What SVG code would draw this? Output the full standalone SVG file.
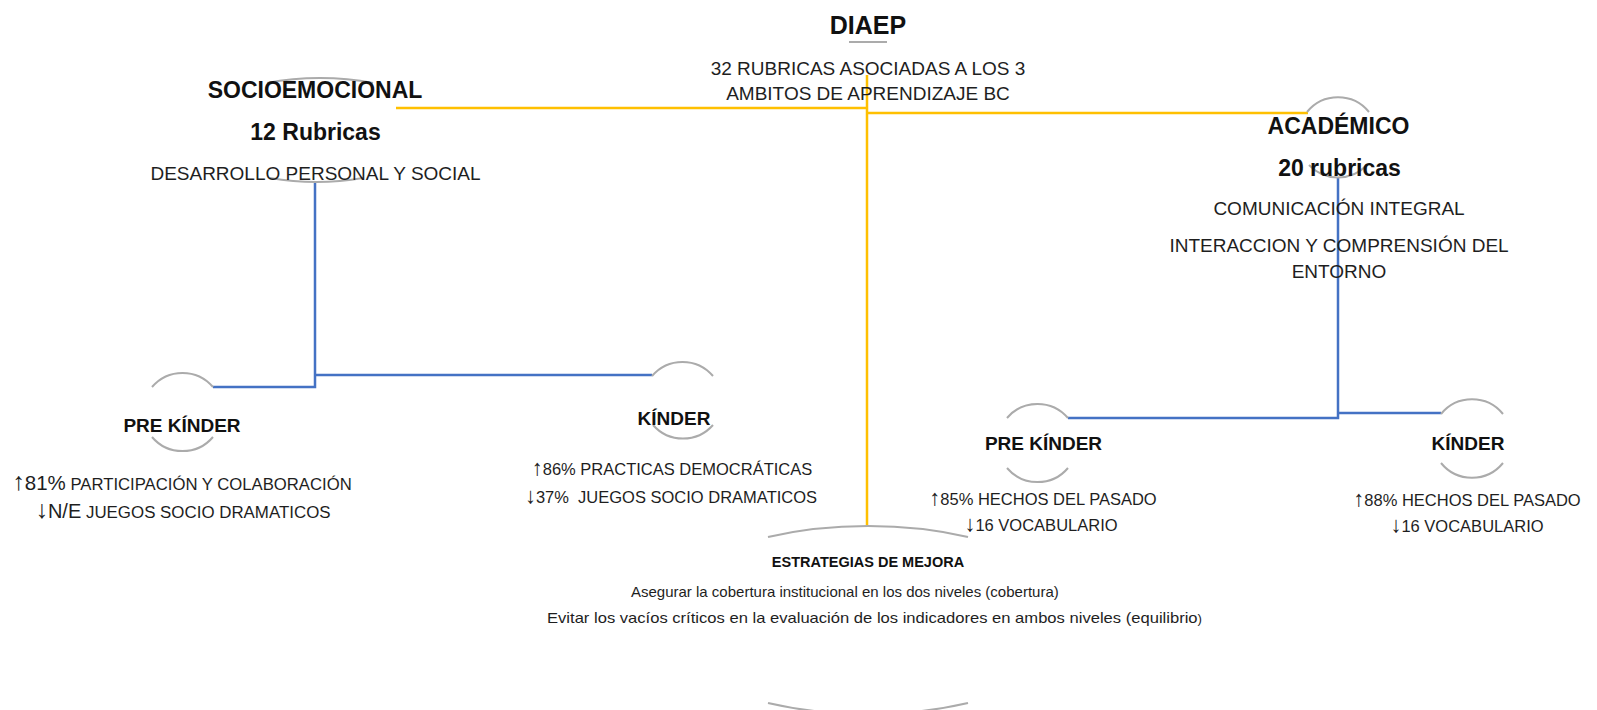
<svg xmlns="http://www.w3.org/2000/svg" width="1597" height="710" viewBox="0 0 1597 710">
<style>
text{font-family:"Liberation Sans",Arial,sans-serif;fill:#1e1e1e}
.t{font-weight:bold;font-size:23px;text-anchor:middle;fill:#111}
.h{font-weight:bold;font-size:19px;text-anchor:middle;fill:#111}
.s{font-size:19px;text-anchor:middle}
.m{font-size:16.5px;text-anchor:middle}
.e{font-size:15px}
.ar{font-size:22px}
.arc{fill:none;stroke:#ababab;stroke-width:2}
.y{fill:none;stroke:#ffc000;stroke-width:2.5}
.b{fill:none;stroke:#4472c4;stroke-width:2.5}
</style>
<rect width="1597" height="710" fill="#fff"/>
<g id="connectors">
<path class="y" d="M396,108 H867"/>
<path class="y" d="M867,75 V525"/>
<path class="y" d="M867,113 H1308"/>
<path class="b" d="M315,183 V387 H213"/>
<path class="b" d="M315,375 H652"/>
<path class="b" d="M1338,177 V418 H1068"/>
<path class="b" d="M1338,413 H1441"/>
</g>
<g id="node-diaep">
<path class="arc" d="M849,42 H887"/>
<text x="868" y="34" style="font-weight:bold;font-size:25px;text-anchor:middle;fill:#111">DIAEP</text>
<text class="s" x="868" y="75">32 RUBRICAS ASOCIADAS A LOS 3</text>
<text class="s" x="868" y="100">AMBITOS DE APRENDIZAJE BC</text>
</g>
<g id="node-socioemocional">
<path class="arc" d="M267,83 A125,53 0 0 1 373,83"/>
<path class="arc" d="M270,178 A125,53 0 0 0 363,178"/>
<text class="t" x="315" y="98">SOCIOEMOCIONAL</text>
<text class="t" x="315.5" y="140">12 Rubricas</text>
<text class="s" x="315.5" y="180">DESARROLLO PERSONAL Y SOCIAL</text>
</g>
<g id="node-academico">
<path class="arc" d="M1307,112 A40,40 0 0 1 1369,112"/>
<path class="arc" d="M1309,165 A40,40 0 0 0 1367,165"/>
<text class="t" x="1338.5" y="134">ACADÉMICO</text>
<text class="t" x="1339.5" y="176">20 rubricas</text>
<text class="s" x="1339" y="215" font-size="20">COMUNICACIÓN INTEGRAL</text>
<text class="s" x="1339" y="252" font-size="19.5">INTERACCION Y COMPRENSIÓN DEL</text>
<text class="s" x="1339" y="278" font-size="19.5">ENTORNO</text>
</g>
<g id="node-prekinder-socio">
<path class="arc" d="M152,387 A40,40 0 0 1 213,387"/>
<path class="arc" d="M152,437 A40,40 0 0 0 213,437"/>
<text class="h" x="182" y="432">PRE KÍNDER</text>
<text x="182" y="490" style="text-anchor:middle"><tspan font-size="25">↑</tspan><tspan font-size="20.5">81%</tspan><tspan font-size="16.7"> PARTICIPACIÓN Y COLABORACIÓN</tspan></text>
<text x="183" y="518" style="text-anchor:middle"><tspan font-size="25">↓</tspan><tspan font-size="20">N/E</tspan><tspan font-size="16.9"> JUEGOS SOCIO DRAMATICOS</tspan></text>
</g>
<g id="node-kinder-socio">
<path class="arc" d="M652,376 A40,40 0 0 1 713,376"/>
<path class="arc" d="M653,425 A40,40 0 0 0 713,425"/>
<text class="h" x="674" y="425">KÍNDER</text>
<text class="m" x="672" y="475"><tspan class="ar">↑</tspan>86% PRACTICAS DEMOCRÁTICAS</text>
<text class="m" x="671" y="503" xml:space="preserve"><tspan class="ar">↓</tspan>37%  JUEGOS SOCIO DRAMATICOS</text>
</g>
<g id="node-prekinder-acad">
<path class="arc" d="M1007,418 A40,40 0 0 1 1068,418"/>
<path class="arc" d="M1007,468 A40,40 0 0 0 1068,468"/>
<text class="h" x="1043.5" y="450">PRE KÍNDER</text>
<text class="m" x="1043" y="505"><tspan class="ar">↑</tspan>85% HECHOS DEL PASADO</text>
<text class="m" x="1041" y="531"><tspan class="ar">↓</tspan>16 VOCABULARIO</text>
</g>
<g id="node-kinder-acad">
<path class="arc" d="M1441,414 A40,40 0 0 1 1503,414"/>
<path class="arc" d="M1441,463 A40,40 0 0 0 1503,463"/>
<text class="h" x="1468" y="450">KÍNDER</text>
<text class="m" x="1467" y="506"><tspan class="ar">↑</tspan>88% HECHOS DEL PASADO</text>
<text class="m" x="1467" y="532"><tspan class="ar">↓</tspan>16 VOCABULARIO</text>
</g>
<g id="node-estrategias">
<path class="arc" d="M768,537 A212,93 0 0 1 968,537"/>
<path class="arc" d="M768,703 A212,93 0 0 0 968,703"/>
<text x="868" y="567" style="font-weight:bold;font-size:14.5px;text-anchor:middle;fill:#111">ESTRATEGIAS DE MEJORA</text>
<text class="e" x="631" y="597">Asegurar la cobertura institucional en los dos niveles (cobertura)</text>
<text class="e" x="547" y="623" font-size="16" textLength="655" lengthAdjust="spacingAndGlyphs">Evitar los vacíos críticos en la evaluación de los indicadores en ambos niveles (equilibrio<tspan font-size="12">)</tspan></text>
</g>
</svg>
